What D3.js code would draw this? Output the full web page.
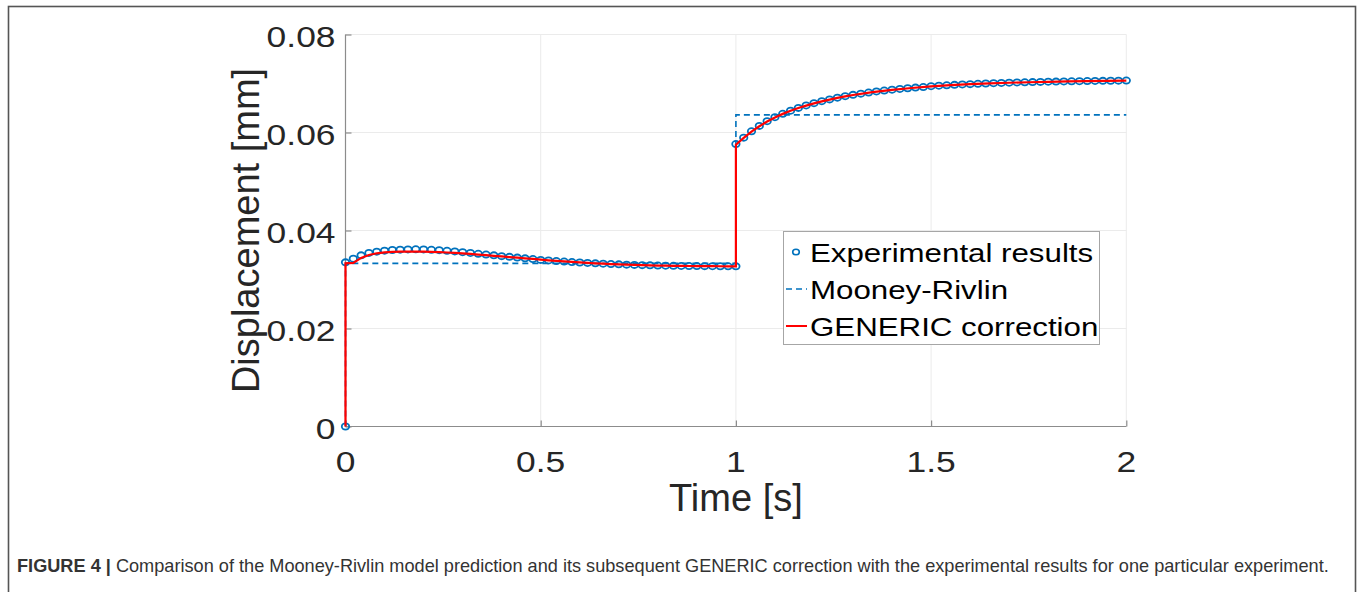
<!DOCTYPE html>
<html>
<head>
<meta charset="utf-8">
<script src="https://cdn.jsdelivr.net/npm/d3@7"></script>
<style>
  html, body { margin: 0; padding: 0; background: #fff; }
  svg { display: block; }
</style>
</head>
<body>
<svg id="chart" width="1362" height="592"></svg>
<script>
// ---------------- DATA ----------------
const xTicks = [0, 0.5, 1, 1.5, 2];
const xTickLabels = ["0", "0.5", "1", "1.5", "2"];
const yTicks = [0, 0.02, 0.04, 0.06, 0.08];
const yTickLabels = ["0", "0.02", "0.04", "0.06", "0.08"];

const seriesNames = ["Experimental results", "Mooney-Rivlin", "GENERIC correction"];

// Experimental results (circles)
const expTime = [
  0, 0, 0.02, 0.04, 0.06, 0.08, 0.10, 0.12, 0.14, 0.16, 0.18, 0.20, 0.22, 0.24, 0.26, 0.28, 0.30,
  0.32, 0.34, 0.36, 0.38, 0.40, 0.42, 0.44, 0.46, 0.48, 0.50, 0.52, 0.54, 0.56, 0.58, 0.60,
  0.62, 0.64, 0.66, 0.68, 0.70, 0.72, 0.74, 0.76, 0.78, 0.80, 0.82, 0.84, 0.86, 0.88, 0.90,
  0.92, 0.94, 0.96, 0.98, 1.00,
  1.00, 1.02, 1.04, 1.06, 1.08, 1.10, 1.12, 1.14, 1.16, 1.18, 1.20, 1.22, 1.24, 1.26, 1.28, 1.30,
  1.32, 1.34, 1.36, 1.38, 1.40, 1.42, 1.44, 1.46, 1.48, 1.50, 1.52, 1.54, 1.56, 1.58, 1.60,
  1.62, 1.64, 1.66, 1.68, 1.70, 1.72, 1.74, 1.76, 1.78, 1.80, 1.82, 1.84, 1.86, 1.88, 1.90,
  1.92, 1.94, 1.96, 1.98, 2.00
];
const expDisp = [
  0, 0.03350, 0.03425, 0.03493, 0.03541, 0.03568, 0.03588, 0.03602, 0.03609, 0.03614, 0.03616,
  0.03613, 0.03607, 0.03598, 0.03586, 0.03572, 0.03557, 0.03541, 0.03525, 0.03509, 0.03493,
  0.03477, 0.03462, 0.03447, 0.03432, 0.03417, 0.03400, 0.03388, 0.03377, 0.03366, 0.03356,
  0.03347, 0.03338, 0.03330, 0.03322, 0.03315, 0.03309, 0.03303, 0.03298, 0.03293, 0.03289,
  0.03285, 0.03282, 0.03279, 0.03277, 0.03275, 0.03273, 0.03272, 0.03271, 0.03270, 0.03269,
  0.03268,
  0.05765, 0.05895, 0.06025, 0.06135, 0.06230, 0.06312, 0.06382, 0.06445, 0.06502, 0.06552,
  0.06598, 0.06639, 0.06676, 0.06710, 0.06740, 0.06768, 0.06793, 0.06816, 0.06837, 0.06856,
  0.06873, 0.06889, 0.06903, 0.06916, 0.06928, 0.06945, 0.06955, 0.06964, 0.06972, 0.06980,
  0.06987, 0.06994, 0.07000, 0.07006, 0.07011, 0.07016, 0.07021, 0.07025, 0.07029, 0.07033,
  0.07036, 0.07039, 0.07042, 0.07045, 0.07047, 0.07050, 0.07052, 0.07054, 0.07056, 0.07058,
  0.07060
];

// Mooney-Rivlin model (dashed)
const mrTime = [0, 0, 1, 1, 2];
const mrDisp = [0, 0.0333, 0.0333, 0.0636, 0.0636];

// GENERIC correction (red line)
const genTime = [
  0, 0, 0.02, 0.04, 0.06, 0.08, 0.10, 0.12, 0.14, 0.16, 0.18, 0.20, 0.22, 0.24, 0.26, 0.28, 0.30,
  0.32, 0.34, 0.36, 0.38, 0.40, 0.42, 0.44, 0.46, 0.48, 0.50, 0.52, 0.54, 0.56, 0.58, 0.60,
  0.62, 0.64, 0.66, 0.68, 0.70, 0.72, 0.74, 0.76, 0.78, 0.80, 0.82, 0.84, 0.86, 0.88, 0.90,
  0.92, 0.94, 0.96, 0.98, 1.00,
  1.00, 1.02, 1.04, 1.06, 1.08, 1.10, 1.12, 1.14, 1.16, 1.18, 1.20, 1.22, 1.24, 1.26, 1.28, 1.30,
  1.35, 1.40, 1.45, 1.50, 1.55, 1.60, 1.65, 1.70, 1.75, 1.80, 1.85, 1.90, 1.95, 2.00
];
const genDisp = [
  0, 0.0333, 0.0334, 0.0344, 0.0350, 0.03535, 0.03553, 0.03563, 0.03568, 0.03570, 0.03570,
  0.03568, 0.03564, 0.03558, 0.03551, 0.03542, 0.03532, 0.03521, 0.03509, 0.03497, 0.03484,
  0.03471, 0.03458, 0.03445, 0.03432, 0.03419, 0.03404, 0.03391, 0.03380, 0.03369, 0.03358,
  0.03348, 0.03339, 0.03330, 0.03322, 0.03315, 0.03309, 0.03303, 0.03298, 0.03293, 0.03289,
  0.03285, 0.03282, 0.03279, 0.03277, 0.03275, 0.03273, 0.03272, 0.03271, 0.03270, 0.03269,
  0.03268,
  0.05750, 0.05890, 0.06018, 0.06128, 0.06224, 0.06308, 0.06380, 0.06443, 0.06499, 0.06549,
  0.06594, 0.06635, 0.06672, 0.06706, 0.06737, 0.06765,
  0.06825, 0.06871, 0.06908, 0.06940, 0.06966, 0.06986, 0.07003, 0.07015, 0.07026, 0.07035,
  0.07043, 0.07049, 0.07054, 0.07058
];

const captionBold = "FIGURE 4 |";
const captionText = " Comparison of the Mooney-Rivlin model prediction and its subsequent GENERIC correction with the experimental results for one particular experiment.";

// ---------------- DRAW ----------------
const svg = d3.select("#chart");
const FONT = "'Liberation Sans', Arial, Helvetica, sans-serif";
const SX = 1.18; // horizontal stretch of the source figure text

// outer frame
svg.append("rect")
  .attr("x", 8.5).attr("y", 6.5)
  .attr("width", 1347).attr("height", 620)
  .attr("fill", "none").attr("stroke", "#555").attr("stroke-width", 1.6);

const plot = { left: 345.5, right: 1126.3, top: 34.5, bottom: 426.5 };
const x = d3.scaleLinear().domain([0, 2]).range([plot.left, plot.right]);
const y = d3.scaleLinear().domain([0, 0.08]).range([plot.bottom, plot.top]);

// grid
const grid = svg.append("g");
grid.selectAll("line.gx").data(xTicks).join("line")
  .attr("x1", d => x(d)).attr("x2", d => x(d))
  .attr("y1", plot.top).attr("y2", plot.bottom)
  .attr("stroke", "#ebebeb").attr("stroke-width", 1);
grid.selectAll("line.gy").data(yTicks).join("line")
  .attr("x1", plot.left).attr("x2", plot.right)
  .attr("y1", d => y(d)).attr("y2", d => y(d))
  .attr("stroke", "#ebebeb").attr("stroke-width", 1);

// axes (inward ticks)
const axisColor = "#8c8c8c";
const xAxis = svg.append("g").attr("transform", `translate(0,${plot.bottom})`)
  .call(d3.axisBottom(x).tickValues(xTicks).tickSize(-6).tickFormat(""));
const yAxis = svg.append("g").attr("transform", `translate(${plot.left},0)`)
  .call(d3.axisLeft(y).tickValues(yTicks).tickSize(-6).tickFormat(""));
[xAxis, yAxis].forEach(g => {
  g.select(".domain").attr("stroke", axisColor).attr("stroke-width", 1.2);
  g.selectAll(".tick line").attr("stroke", axisColor).attr("stroke-width", 1.2);
});
xAxis.select(".domain").attr("d", `M${plot.left},0H${plot.right}`);
yAxis.select(".domain").attr("d", `M0,${plot.top}V${plot.bottom}`);

// tick labels
const tickFont = 30;
svg.append("g").selectAll("text").data(xTicks).join("text")
  .attr("transform", d => `translate(${x(d)},${plot.bottom + 45}) scale(${SX},1)`)
  .attr("text-anchor", "middle")
  .attr("font-family", FONT).attr("font-size", tickFont).attr("fill", "#262626")
  .text((d, i) => xTickLabels[i]);
svg.append("g").selectAll("text").data(yTicks).join("text")
  .attr("transform", d => `translate(${plot.left - 10},${y(d) + 12}) scale(${SX},1)`)
  .attr("text-anchor", "end")
  .attr("font-family", FONT).attr("font-size", tickFont).attr("fill", "#262626")
  .text((d, i) => yTickLabels[i]);

// axis titles
svg.append("text")
  .attr("transform", `translate(${x(1)},511)`)
  .attr("text-anchor", "middle")
  .attr("font-family", FONT).attr("font-size", 38).attr("fill", "#262626")
  .text("Time [s]");
svg.append("text")
  .attr("transform", `translate(259,${(plot.top + plot.bottom) / 2}) rotate(-90)`)
  .attr("text-anchor", "middle")
  .attr("font-family", FONT).attr("font-size", 38).attr("fill", "#262626")
  .text("Displacement [mm]");

// series
const blue = "#0072BD";
const expData = expTime.map((t, i) => ({ t, v: expDisp[i] }));
const mrData = mrTime.map((t, i) => ({ t, v: mrDisp[i] }));
const genData = genTime.map((t, i) => ({ t, v: genDisp[i] }));
const line = d3.line().x(d => x(d.t)).y(d => y(d.v));

svg.append("g").selectAll("ellipse").data(expData).join("ellipse")
  .attr("cx", d => x(d.t)).attr("cy", d => y(d.v))
  .attr("rx", 3.7).attr("ry", 3.1)
  .attr("fill", "none").attr("stroke", blue).attr("stroke-width", 1.8);

svg.append("path").datum(mrData).attr("d", line)
  .attr("fill", "none").attr("stroke", blue).attr("stroke-width", 1.6)
  .attr("stroke-dasharray", "6,4");

svg.append("path").datum(genData).attr("d", line)
  .attr("fill", "none").attr("stroke", "#ff0000").attr("stroke-width", 2.2);

// legend
const lg = svg.append("g");
lg.append("rect").attr("x", 783.5).attr("y", 231.5).attr("width", 316).attr("height", 113)
  .attr("fill", "#fff").attr("stroke", "#a6a6a6").attr("stroke-width", 1);
const rowsY = [252, 289, 326];
lg.append("ellipse").attr("cx", 796).attr("cy", rowsY[0])
  .attr("rx", 3.3).attr("ry", 2.8).attr("fill", "none").attr("stroke", blue).attr("stroke-width", 1.6);
lg.append("line").attr("x1", 786).attr("x2", 807).attr("y1", rowsY[1]).attr("y2", rowsY[1])
  .attr("stroke", blue).attr("stroke-width", 1.5).attr("stroke-dasharray", "6,4");
lg.append("line").attr("x1", 786).attr("x2", 807).attr("y1", rowsY[2]).attr("y2", rowsY[2])
  .attr("stroke", "#ff0000").attr("stroke-width", 2);
lg.selectAll("text").data(seriesNames).join("text")
  .attr("transform", (d, i) => `translate(810,${rowsY[i] + 9.5}) scale(${SX},1)`)
  .attr("font-family", FONT).attr("font-size", 26.5).attr("fill", "#000")
  .text(d => d);

// caption
const cap = svg.append("text")
  .attr("font-family", FONT).attr("font-size", 17.5).attr("fill", "#333");
cap.append("tspan").attr("font-weight", "bold").text(captionBold);
cap.append("tspan").text(captionText);
const cw = cap.node().getComputedTextLength();
cap.attr("transform", `translate(17,572) scale(${(1329 - 17) / cw},1)`);
</script>
</body>
</html>
